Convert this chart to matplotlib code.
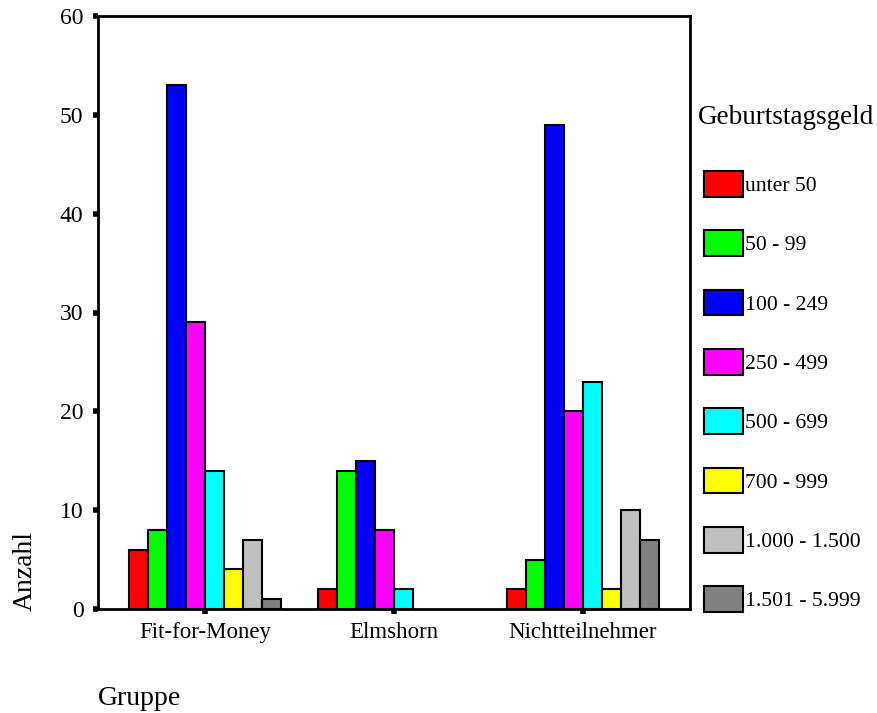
import numpy as np
import matplotlib
matplotlib.use("Agg")
import matplotlib.pyplot as plt

plt.rcParams['font.family'] = ['Liberation Serif', 'DejaVu Serif']

groups = ["Fit-for-Money", "Elmshorn", "Nichtteilnehmer"]
categories = ["unter 50", "50 - 99", "100 - 249", "250 - 499", "500 - 699",
              "700 - 999", "1.000 - 1.500", "1.501 - 5.999"]
colors = ["#ff0000", "#00ff00", "#0000ff", "#ff00ff", "#00ffff",
          "#ffff00", "#c0c0c0", "#808080"]
# counts per category (rows) for each group (columns)
counts = [
    [6, 2, 2],
    [8, 14, 5],
    [53, 15, 49],
    [29, 8, 20],
    [14, 2, 23],
    [4, 0, 2],
    [7, 0, 10],
    [1, 0, 7],
]

fig = plt.figure(figsize=(8.77, 7.13), dpi=100)
ax = fig.add_axes([98/877, 1-609/713, 592/877, 593/713])

x = np.arange(len(groups))
w = 0.1
n = len(categories)
for i, (cat, col, vals) in enumerate(zip(categories, colors, counts)):
    pos = x + (i - (n - 1) / 2) * w
    vals = np.array(vals, dtype=float)
    shown = vals > 0
    ax.bar(pos[shown], vals[shown], width=w, color=col, edgecolor="black",
           linewidth=1.5, label=cat)

ax.set_xlim(-0.566, 2.566)
ax.set_ylim(0, 60)
ax.set_yticks(range(0, 61, 10))
ax.set_xticks(x)
ax.set_xticklabels(groups)
for s in ax.spines.values():
    s.set_linewidth(2)
ax.tick_params(axis="y", direction="out", length=3.5, width=4, labelsize=17, pad=7)
ax.tick_params(axis="x", direction="out", length=3.5, width=4, labelsize=16.5, pad=6)

fig.text(25/877, 1-571/713, "Anzahl", rotation=90, ha="center", va="center", fontsize=20)
fig.text(98/877, 1-705/713, "Gruppe", ha="left", va="baseline", fontsize=20)
fig.text(698/877, 1-124/713, "Geburtstagsgeld", ha="left", va="baseline", fontsize=19.5)

leg = ax.legend(loc="upper left", frameon=False, fontsize=15.6,
                handlelength=1.8, handleheight=1.45,
                handletextpad=0.1, labelspacing=1.55, borderaxespad=0)
leg.set_bbox_to_anchor((1.009, 0.753), transform=ax.transAxes)
for h in leg.legend_handles:
    h.set_linewidth(1.5)
    h.set_edgecolor("black")

fig.savefig("out.png", dpi=100)
